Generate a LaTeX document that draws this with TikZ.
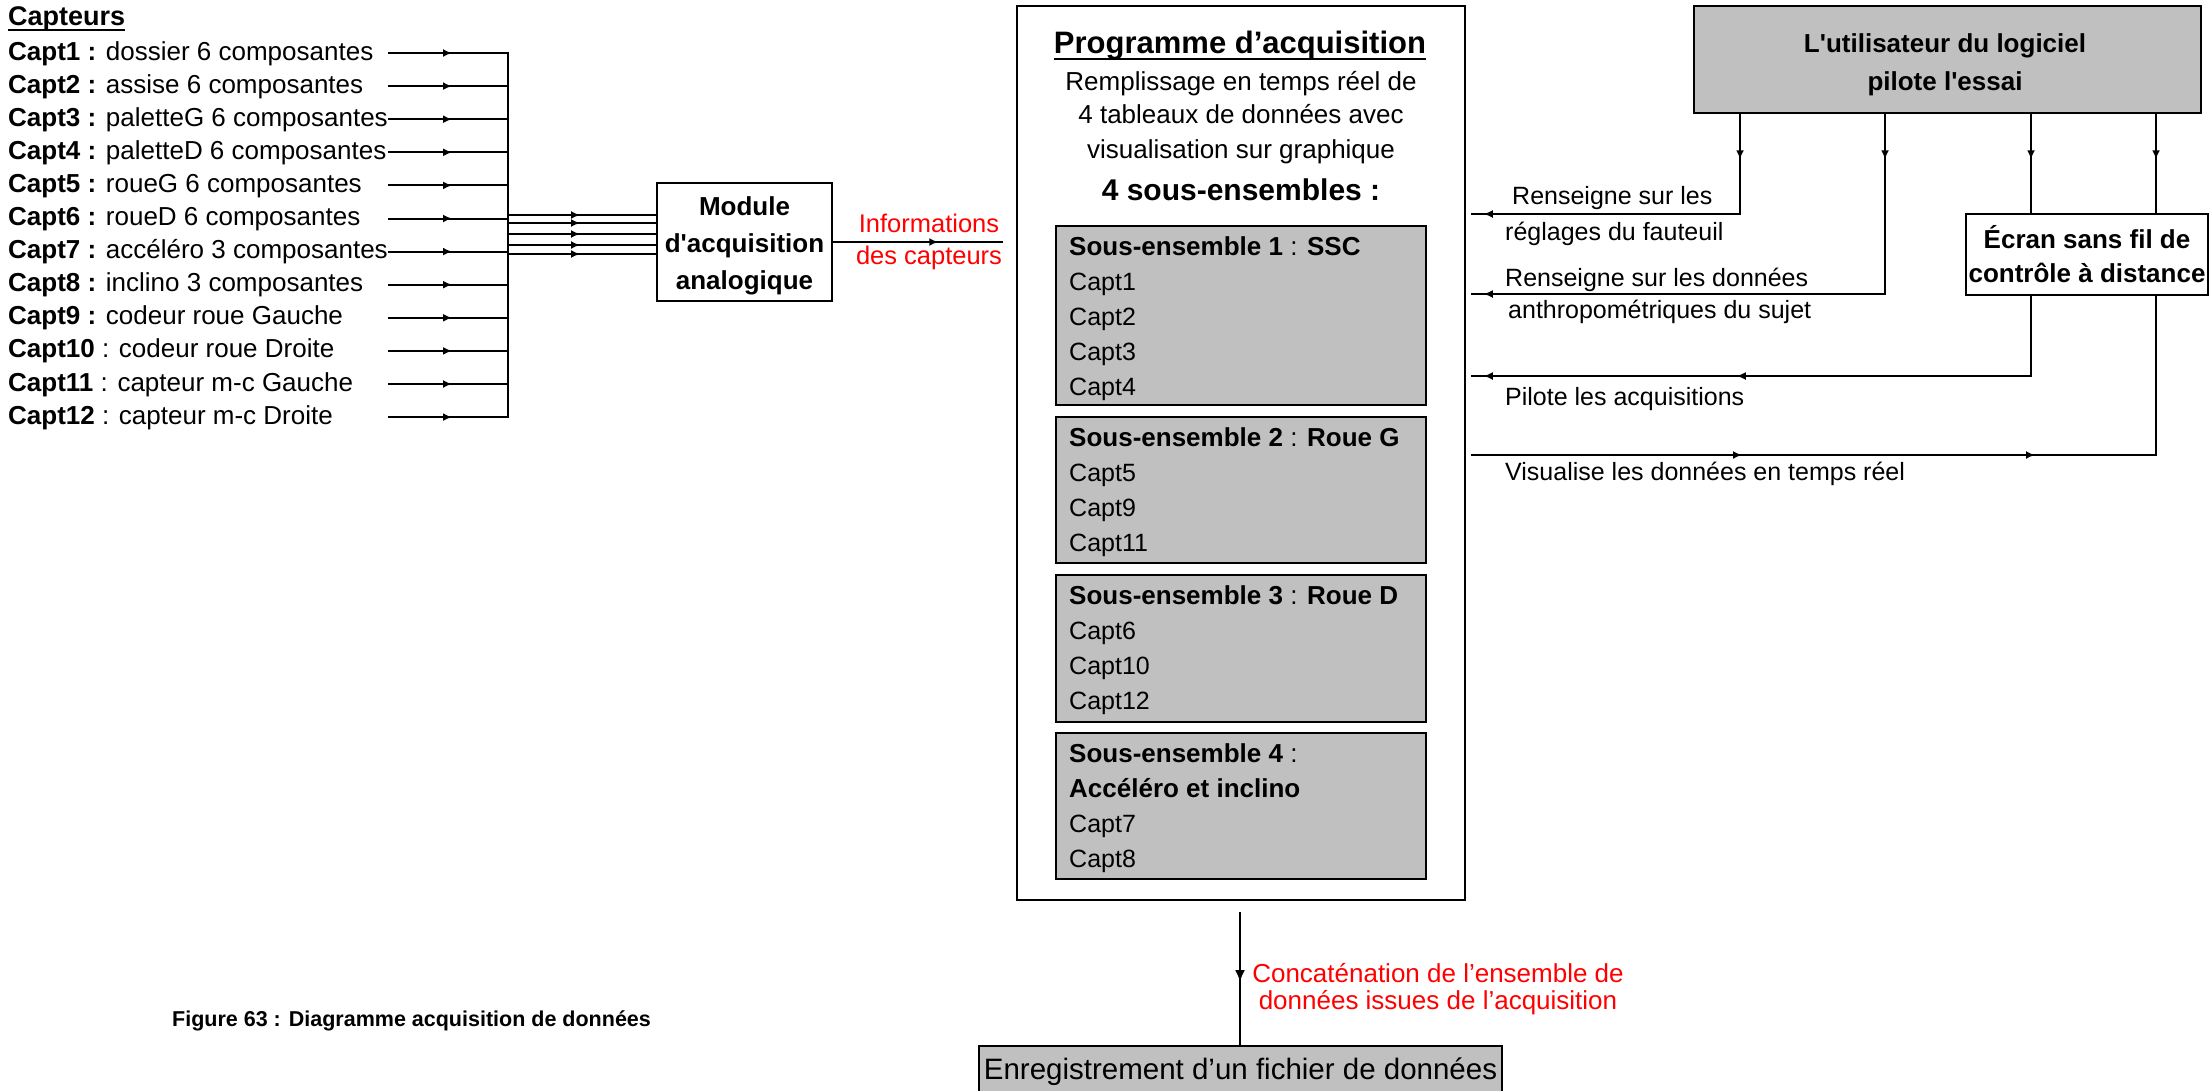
\documentclass[tikz,border=0pt]{standalone}
\usepackage{fontspec}
\setmainfont{Liberation Sans}
\usetikzlibrary{arrows.meta,decorations.markings}
\definecolor{boxgray}{HTML}{C0C0C0}
\definecolor{labred}{HTML}{FF0000}
\newcommand\fsz[1]{\fontsize{#1}{#1}\selectfont}
\newcommand\sq{\textquotesingle}
\begin{document}
\begin{tikzpicture}[x=1pt,y=-1pt,
  >={Latex[length=9pt,width=8pt]},
  ln/.style={line width=2pt},
  mk/.style={postaction={decorate,decoration={markings,mark=at position #1 with {\arrow{>}}}}},
  mkb/.style={postaction={decorate,decoration={markings,mark=at position #1 with {\arrow{Latex[length=12pt,width=10pt]}}}}},
  bx/.style={draw,line width=2.5pt,inner sep=0pt},
  gbx/.style={bx,fill=boxgray},
  tx/.style={inner sep=0pt,font=\fsz{25}},
  txl/.style={tx,anchor=base west},
  txc/.style={tx,anchor=base},
  btx/.style={inner sep=0pt,anchor=base,font=\fsz{26}\bfseries},
  redtx/.style={inner sep=0pt,anchor=base,text=labred,font=\fsz{25.5}}
]
\useasboundingbox[fill=white] (0,0) rectangle (2211,1090);

% ---------- Capteurs ----------
\node[inner sep=0pt,anchor=base west,font=\fsz{27}\bfseries] (cap) at (8,25) {Capteurs};
\draw[line width=2pt] ([yshift=-5pt]cap.base west) -- ([yshift=-5pt]cap.base east);

\foreach \i/\lab in {
  1/{\textbf{Capt1 :} dossier 6 composantes},
  2/{\textbf{Capt2 :} assise 6 composantes},
  3/{\textbf{Capt3 :} paletteG 6 composantes},
  4/{\textbf{Capt4 :} paletteD 6 composantes},
  5/{\textbf{Capt5 :} roueG 6 composantes},
  6/{\textbf{Capt6 :} roueD 6 composantes},
  7/{\textbf{Capt7 :} accéléro 3 composantes},
  8/{\textbf{Capt8 :} inclino 3 composantes},
  9/{\textbf{Capt9 :} codeur roue Gauche},
  10/{\textbf{Capt10} : codeur roue Droite},
  11/{\textbf{Capt11} : capteur m-c Gauche},
  12/{\textbf{Capt12} : capteur m-c Droite}}{
  \pgfmathsetmacro\yy{53+(\i-1)*33.1}
  \node[inner sep=0pt,anchor=base west,font=\fsz{26}] (s\i) at (8,\yy+7) {\lab};
  \coordinate (a\i) at (388,\yy);
  \coordinate (b\i) at (508,\yy);
  \draw[ln,mk=64pt] (a\i) -- (b\i);
}
\draw[ln,line cap=rect] (b1) -- (b12);

% ---------- Module ----------
\node[bx,minimum width=175pt,minimum height=118pt] (mod) at (744.5,242) {};
\node[btx] (mod1) at (744.5,215) {Module};
\node[btx] (mod2) at (744.5,252) {d\sq acquisition};
\node[btx] (mod3) at (744.5,289) {analogique};

\foreach \k/\y in {1/215,2/223,3/234,4/245,5/254}{
  \coordinate (m\k) at (508,\y);
  \draw[ln,mk=72pt] (m\k) -- (m\k -| mod.west);
}

\coordinate (pin) at (1003,242);
\draw[ln,mk=105pt] (mod.east) -- (pin);
\node[redtx] (inf1) at (929,232) {Informations};
\node[redtx] (inf2) at (929,264) {des capteurs};

% ---------- Programme ----------
\node[bx,minimum width=448pt,minimum height=894pt] (prog) at (1241,453) {};
\node[inner sep=0pt,anchor=base,font=\fsz{31}\bfseries] (ptitle) at (1240,53) {Programme d’acquisition};
\draw[line width=2pt] ([yshift=-5.5pt]ptitle.base west) -- ([yshift=-5.5pt]ptitle.base east);
\node[txc,font=\fsz{26}] (pl1) at (1241,90) {Remplissage en temps réel de};
\node[txc,font=\fsz{26}] (pl2) at (1241,123) {4 tableaux de données avec};
\node[txc,font=\fsz{26}] (pl3) at (1241,158) {visualisation sur graphique};
\node[inner sep=0pt,anchor=base,font=\fsz{30}\bfseries] (pl4) at (1241,200) {4 sous-ensembles :};

\node[gbx,minimum width=370pt,minimum height=179pt] (sb1) at (1241,315.5) {};
\node[gbx,minimum width=370pt,minimum height=146pt] (sb2) at (1241,490) {};
\node[gbx,minimum width=370pt,minimum height=147pt] (sb3) at (1241,648.5) {};
\node[gbx,minimum width=370pt,minimum height=146pt] (sb4) at (1241,806) {};

\node[txl,font=\fsz{26}] (t1) at (1069,255) {\textbf{Sous-ensemble 1} : \textbf{SSC}};
\node[txl] (c1) at (1069,290) {Capt1};
\node[txl] (c2) at (1069,325) {Capt2};
\node[txl] (c3) at (1069,360) {Capt3};
\node[txl] (c4) at (1069,395) {Capt4};

\node[txl,font=\fsz{26}] (t2) at (1069,446) {\textbf{Sous-ensemble 2} : \textbf{Roue G}};
\node[txl] (c5) at (1069,481) {Capt5};
\node[txl] (c9) at (1069,516) {Capt9};
\node[txl] (c11) at (1069,551) {Capt11};

\node[txl,font=\fsz{26}] (t3) at (1069,604) {\textbf{Sous-ensemble 3} : \textbf{Roue D}};
\node[txl] (c6) at (1069,639) {Capt6};
\node[txl] (c10) at (1069,674) {Capt10};
\node[txl] (c12) at (1069,709) {Capt12};

\node[txl,font=\fsz{26}] (t4a) at (1069,762) {\textbf{Sous-ensemble 4} :};
\node[txl,font=\fsz{26}\bfseries] (t4b) at (1069,797) {Accéléro et inclino};
\node[txl] (c7) at (1069,832) {Capt7};
\node[txl] (c8) at (1069,867) {Capt8};

% ---------- Utilisateur ----------
\node[gbx,minimum width=507pt,minimum height=107pt] (usr) at (1947.5,59.5) {};
\node[btx] (usr1) at (1945,52) {L\sq utilisateur du logiciel};
\node[btx] (usr2) at (1945,90) {pilote l\sq essai};

\node[bx,fill=white,minimum width=242pt,minimum height=81pt] (ecr) at (2087,254.5) {};
\node[btx] (ecr1) at (2087,248) {Écran sans fil de};
\node[btx] (ecr2) at (2087,282) {contrôle à distance};

\coordinate (pe) at (1471,0);
\coordinate (k1) at (1740,214);
\coordinate (k2) at (1885,294);
\coordinate (k3) at (2031,376);
\coordinate (k4) at (2156,455);

\draw[ln,mk=45pt,mk=356pt] (usr.south -| k1) -- (k1) -- (k1 -| pe);
\draw[ln,mk=45pt,mk=581pt] (usr.south -| k2) -- (k2) -- (k2 -| pe);
\draw[ln,mk=45pt] (usr.south -| k3) -- (ecr.north -| k3);
\draw[ln,mk=45pt] (usr.south -| k4) -- (ecr.north -| k4);
\draw[ln,mk=374pt,mk=627pt] (ecr.south -| k3) -- (k3) -- (k3 -| pe);
\draw[ln,mk=271pt,mk=564pt] (k4 -| pe) -- (k4) -- (ecr.south -| k4);

\node[txl] (r1) at (1512,204) {Renseigne sur les};
\node[txl] (r2) at (1505,240) {réglages du fauteuil};
\node[txl] (r3) at (1505,286) {Renseigne sur les données};
\node[txl] (r4) at (1508,318) {anthropométriques du sujet};
\node[txl] (r5) at (1505,405) {Pilote les acquisitions};
\node[txl] (r6) at (1505,480) {Visualise les données en temps réel};

% ---------- Bas ----------
\node[draw,line width=2pt,fill=boxgray,inner sep=0pt,minimum width=523pt,minimum height=54pt] (enr) at (1240.5,1073) {};
\node[inner sep=0pt,anchor=base,font=\fsz{29.5}] (enrt) at (1240.5,1079) {Enregistrement d’un fichier de données};
\coordinate (pb) at (1240,912);
\draw[ln,mkb=70pt] (pb) -- (pb |- enr.north);
\node[redtx,font=\fsz{26}] (cc1) at (1438,982) {Concaténation de l’ensemble de};
\node[redtx,font=\fsz{26}] (cc2) at (1438,1009) {données issues de l’acquisition};

\node[inner sep=0pt,anchor=base west,font=\fsz{21.5}\bfseries] (fig) at (172,1026) {Figure 63 : Diagramme acquisition de données};
\end{tikzpicture}
\end{document}
